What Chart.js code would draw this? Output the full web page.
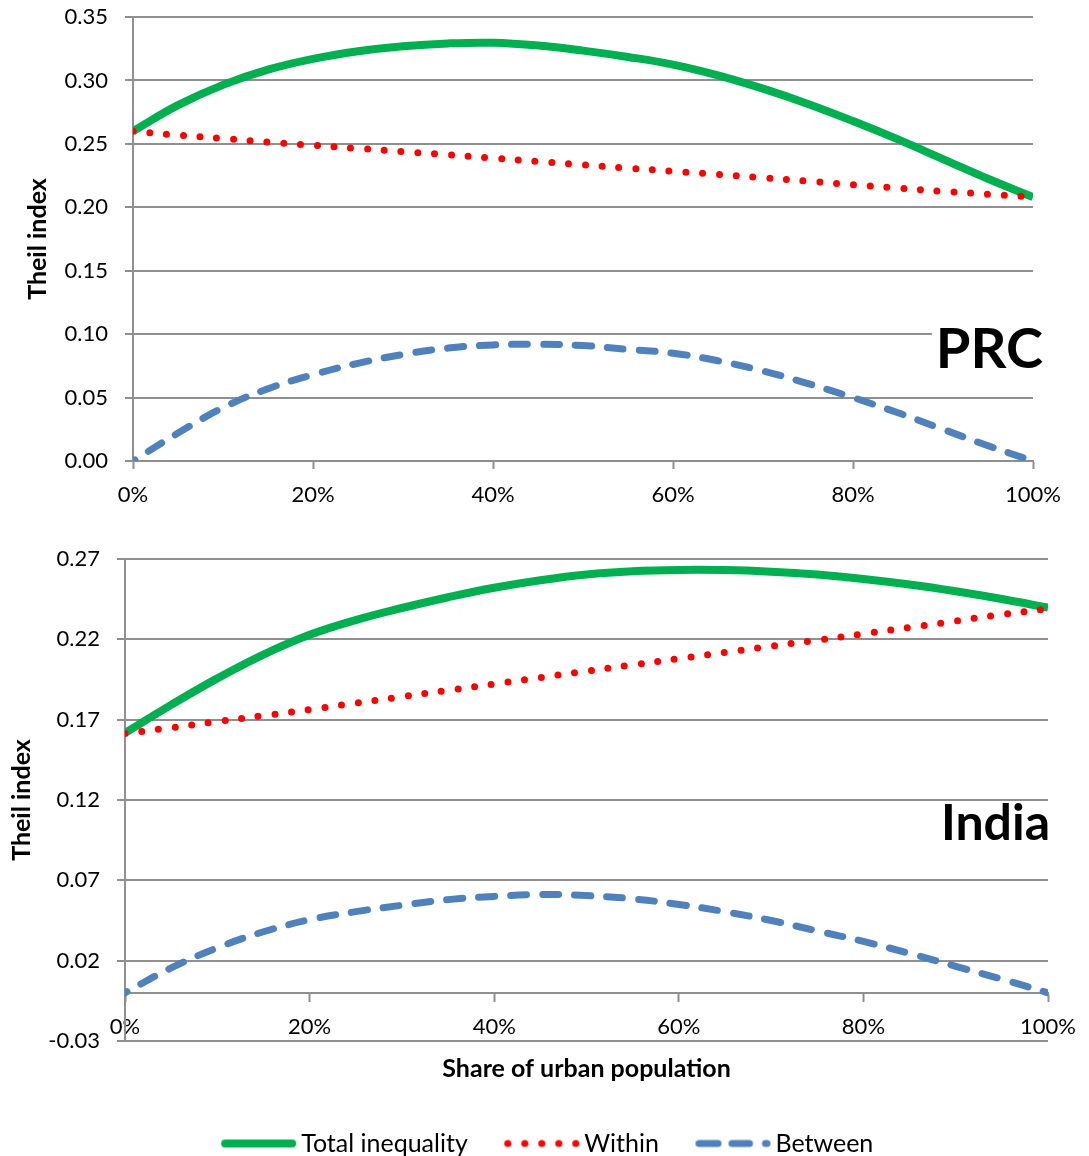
<!DOCTYPE html>
<html>
<head>
<meta charset="utf-8">
<script src="https://cdn.jsdelivr.net/npm/chart.js@4.4.0/dist/chart.umd.min.js"></script>
<style>
  html, body { margin: 0; padding: 0; background: #fff; overflow: hidden; }
  .panel { position: absolute; left: 0; }
  #prcPanel { top: 0; }
  #indiaPanel { top: 530px; }
</style>
</head>
<body>
<div class="panel" id="prcPanel"><canvas id="prcChart" width="1089" height="530"></canvas></div>
<div class="panel" id="indiaPanel"><canvas id="indiaChart" width="1089" height="636"></canvas></div>
<script>
// Share of urban population (%)
const urbanShare = [0, 5, 10, 15, 20, 25, 30, 35, 40, 45, 50, 55, 60, 65, 70, 75, 80, 85, 90, 95, 100];

// PRC Theil decomposition
const prcTotal   = [0.2600, 0.2805, 0.2965, 0.3085, 0.3170, 0.3230, 0.3270, 0.3292, 0.3297, 0.3275, 0.3235,
                    0.3185, 0.3125, 0.3040, 0.2935, 0.2815, 0.2680, 0.2535, 0.2380, 0.2225, 0.2080];
const prcWithin  = [0.2600, 0.2569, 0.2542, 0.2514, 0.2489, 0.2464, 0.2439, 0.2414, 0.2387, 0.2361, 0.2334,
                    0.2309, 0.2284, 0.2259, 0.2233, 0.2206, 0.2178, 0.2151, 0.2126, 0.2103, 0.2080];
const prcBetween = [0, 0.022, 0.042, 0.057, 0.068, 0.077, 0.084, 0.089, 0.0915, 0.092, 0.091,
                    0.088, 0.085, 0.079, 0.071, 0.061, 0.050, 0.038, 0.025, 0.012, 0];

// India Theil decomposition
const indiaTotal   = [0.1617, 0.1792, 0.1957, 0.2105, 0.2228, 0.2320, 0.2395, 0.2462, 0.2521, 0.2568, 0.2604,
                      0.2624, 0.2632, 0.2631, 0.2621, 0.2603, 0.2576, 0.2541, 0.2499, 0.2451, 0.2397];
const indiaWithin  = [0.1614, 0.1650, 0.1688, 0.1725, 0.1763, 0.1803, 0.1843, 0.1883, 0.1922, 0.1962, 0.2002,
                      0.2041, 0.2080, 0.2119, 0.2158, 0.2195, 0.2234, 0.2274, 0.2314, 0.2355, 0.2389];
const indiaBetween = [0, 0.0155, 0.028, 0.038, 0.0455, 0.0505, 0.0545, 0.058, 0.060, 0.0612, 0.0605,
                      0.0585, 0.055, 0.0505, 0.045, 0.0385, 0.032, 0.0245, 0.0165, 0.0085, 0];

const seriesNames = ['Total inequality', 'Within', 'Between'];
const xTickValues = [0, 20, 40, 60, 80, 100];
const prcYTicks   = [0, 0.35, 0.05];    // min, max, step
const indiaYTicks = [-0.03, 0.27, 0.05];

const FONT = 'Lato, "Open Sans", sans-serif';
Chart.defaults.font.family = FONT;
Chart.defaults.color = '#000';

const GRID = '#8f8f8f';
const GREEN = '#00B050', RED = '#FF0000', BLUE = '#4F81BD';

function points(ys) {
  return urbanShare.map((x, i) => ({ x: x, y: ys[i] }));
}

function datasets(total, within, between) {
  return [
    { label: seriesNames[0], data: points(total), borderColor: GREEN, backgroundColor: GREEN,
      borderWidth: 8, borderCapStyle: 'butt', order: 2 },
    { label: seriesNames[1], data: points(within), borderColor: RED, backgroundColor: RED,
      borderWidth: 7, borderDash: [0, 16.8], borderCapStyle: 'round', order: 1 },
    { label: seriesNames[2], data: points(between), borderColor: BLUE, backgroundColor: BLUE,
      borderWidth: 7, borderDash: [16, 16], borderDashOffset: 14, borderCapStyle: 'round', order: 3 }
  ];
}

// Legend sample images: short strokes drawn around the centre of a 90x12 canvas
function sampleCanvas(draw) {
  const c = document.createElement('canvas');
  c.width = 90; c.height = 12;
  const g = c.getContext('2d');
  g.translate(45, 6);
  g.lineCap = 'round';
  draw(g);
  return c;
}
function stroke(g, color, width, x1, x2) {
  g.strokeStyle = color; g.lineWidth = width;
  g.beginPath(); g.moveTo(x1, 0); g.lineTo(x2, 0); g.stroke();
}
const legendSamples = [
  sampleCanvas(g => stroke(g, GREEN, 8, -27, 40)),
  sampleCanvas(g => {
    g.fillStyle = RED;
    for (let k = 0; k < 5; k++) { g.beginPath(); g.arc(-27.5 + 17 * k, 0, 3.5, 0, Math.PI * 2); g.fill(); }
  }),
  sampleCanvas(g => {
    stroke(g, BLUE, 7, -27.5, -8.5);
    stroke(g, BLUE, 7, 5.5, 23);
    stroke(g, BLUE, 7, 39, 40.5);
  })
];

// Country name drawn inside the plot area, optionally on a white box
function countryLabel(text, size, valueBaseline, rightOffset, boxed) {
  return {
    id: 'countryLabel',
    afterDatasetsDraw(chart) {
      const { ctx, chartArea, scales } = chart;
      const yb = scales.y.getPixelForValue(valueBaseline);
      const xr = chartArea.right + rightOffset;
      ctx.save();
      ctx.font = 'bold ' + size + 'px ' + FONT;
      ctx.textAlign = 'right';
      ctx.textBaseline = 'alphabetic';
      if (boxed) {
        const w = ctx.measureText(text).width;
        ctx.fillStyle = '#fff';
        ctx.fillRect(xr - w - 4, yb - size * 0.82, w + 8, size);
      }
      ctx.fillStyle = '#000';
      ctx.fillText(text, xr, yb);
      ctx.restore();
    }
  };
}

// Centre the legend on the full canvas width rather than the padded width
const legendCentre = {
  id: 'legendCentre',
  afterLayout(chart) {
    const lg = chart.legend;
    if (!lg) return;
    const shift = (chart.width - (lg.left + lg.right)) / 2;
    lg.left += shift;
    lg.right += shift;
  }
};

function legendItems(chart) {
  const items = Chart.defaults.plugins.legend.labels.generateLabels(chart);
  items.forEach(it => {
    it.pointStyle = legendSamples[it.datasetIndex];
    it.lineWidth = 0;
  });
  return items;
}

const commonLine = { tension: 0.4, pointRadius: 0, pointHoverRadius: 0, fill: false };

function yScale(range, titlePadTop, width) {
  return {
    type: 'linear',
    min: range[0], max: range[1],
    afterBuildTicks(scale) {
      const t = [];
      for (let v = range[0]; v <= range[1] + 1e-9; v += range[2]) t.push({ value: +v.toFixed(4) });
      scale.ticks = t;
    },
    afterFit(scale) {
      scale.width = width;
      scale.paddingTop = 0;
      scale.paddingBottom = 0;
    },
    grid: { color: GRID, lineWidth: 2, tickLength: 8, tickColor: GRID, tickWidth: 2 },
    border: { display: true, color: GRID, width: 2 },
    ticks: { padding: 17, font: { size: 22 }, color: '#000', callback: v => v.toFixed(2) },
    title: { display: true, text: 'Theil index', font: { size: 25, weight: 'bold' }, color: '#000',
             padding: { top: titlePadTop, bottom: 0 } }
  };
}

function xScaleBase() {
  return {
    type: 'linear',
    min: 0, max: 100,
    afterBuildTicks(scale) { scale.ticks = xTickValues.map(v => ({ value: v })); },
    grid: { drawOnChartArea: false, drawTicks: true, tickLength: 8, tickColor: GRID, tickWidth: 2 },
    border: { display: true, color: GRID, width: 2 },
    ticks: { padding: 13, font: { size: 22 }, color: '#000', maxRotation: 0, callback: v => v + '%' }
  };
}

// PRC panel
new Chart(document.getElementById('prcChart'), {
  type: 'line',
  data: { datasets: datasets(prcTotal, prcWithin, prcBetween) },
  options: {
    responsive: false,
    animation: false,
    elements: { line: commonLine, point: { radius: 0 } },
    layout: { padding: { left: 0, right: 56, top: 17, bottom: 0 } },
    plugins: { legend: { display: false }, tooltip: { enabled: false } },
    scales: {
      x: Object.assign(xScaleBase(), { position: 'bottom', afterFit(s) { s.height = 69; } }),
      y: yScale(prcYTicks, 23, 133)
    }
  },
  plugins: [countryLabel('PRC', 56, 0.073, 10, true)]
});

// India panel
new Chart(document.getElementById('indiaChart'), {
  type: 'line',
  data: { datasets: datasets(indiaTotal, indiaWithin, indiaBetween) },
  options: {
    responsive: false,
    animation: false,
    elements: { line: commonLine, point: { radius: 0 } },
    layout: { padding: { left: 0, right: 40, top: 29, bottom: 0 } },
    plugins: {
      tooltip: { enabled: false },
      legend: {
        position: 'bottom',
        labels: {
          usePointStyle: true,
          pointStyleWidth: 73,
          padding: 31,
          font: { size: 25 },
          color: '#000',
          generateLabels: legendItems,
          sort: (a, b) => a.datasetIndex - b.datasetIndex
        }
      }
    },
    scales: {
      x: Object.assign(xScaleBase(), { position: { y: 0 } }),
      xTitle: {
        type: 'linear', position: 'bottom', min: 0, max: 100,
        afterFit(s) { s.height = 59; },
        grid: { display: false, drawTicks: false },
        border: { display: false },
        ticks: { display: false },
        title: { display: true, text: 'Share of urban population', font: { size: 25, weight: 'bold' },
                 color: '#000', padding: { top: 0, bottom: 16 } }
      },
      y: yScale(indiaYTicks, 7, 125)
    }
  },
  plugins: [countryLabel('India', 50, 0.0948, 2, false), legendCentre]
});
</script>
</body>
</html>
